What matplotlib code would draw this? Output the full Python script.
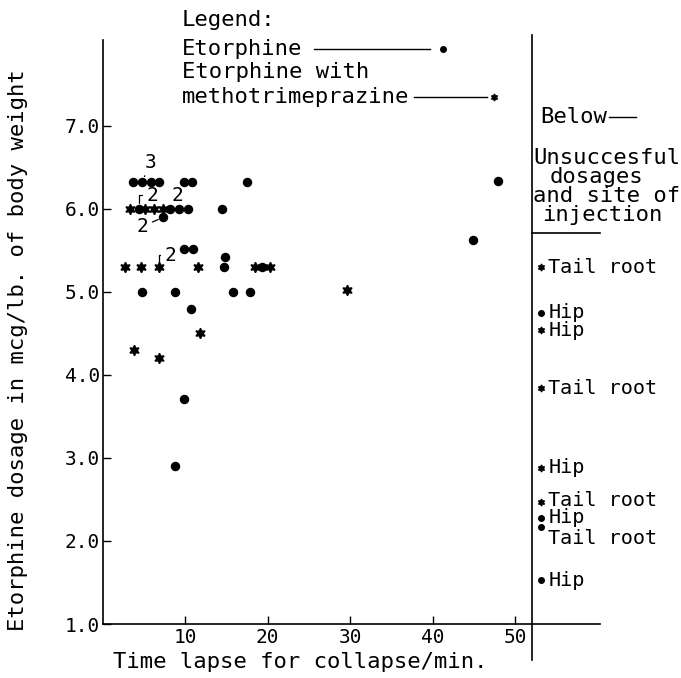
import matplotlib
matplotlib.use("Agg")
import matplotlib.pyplot as plt

# ---------------- data ----------------
# Etorphine alone (filled dots): time lapse (min) vs dosage (mcg/lb)
etorphine_x = [3.7, 4.8, 5.8, 6.8, 9.8, 10.8, 17.5,
               4.35, 8.2, 9.3, 10.35, 14.5,
               7.35, 9.8, 10.9, 14.8, 14.75, 19.35,
               4.8, 8.8, 15.85, 17.8, 10.7, 9.85, 8.8, 44.9, 47.9]
etorphine_y = [6.33, 6.33, 6.33, 6.33, 6.33, 6.33, 6.33,
               6.0, 6.0, 6.0, 6.0, 6.0,
               5.9, 5.52, 5.52, 5.42, 5.3, 5.3,
               5.0, 5.0, 5.0, 5.0, 4.8, 3.71, 2.9, 5.63, 6.34]

# Etorphine with methotrimeprazine (stars)
metho_x = [3.3, 5.15, 6.2, 7.25, 2.65, 4.7, 6.8, 11.6, 18.4, 20.3, 29.6, 11.8, 3.75, 6.85]
metho_y = [6.0, 6.0, 6.0, 6.0, 5.3, 5.3, 5.3, 5.3, 5.3, 5.3, 5.02, 4.5, 4.3, 4.2]

# Multiplicity labels on overlapping points
mult_labels = ["3", "2", "2", "2", "2"]
mult_x = [4.8, 4.35, 8.2, 7.35, 6.8]
mult_y = [6.33, 6.0, 6.0, 5.9, 5.3]

# Unsuccessful dosages (right panel)
unsucc_y = [5.30, 4.75, 4.54, 3.84, 2.88, 2.47, 2.28, 2.17, 1.53]
unsucc_drug = ["M", "E", "M", "M", "M", "M", "E", "E", "E"]
unsucc_site = ["Tail root", "Hip", "Hip", "Tail root", "Hip",
               "Tail root", "Hip", "Tail root", "Hip"]

x_ticks = [10, 20, 30, 40, 50]
y_ticks = [1.0, 2.0, 3.0, 4.0, 5.0, 6.0, 7.0]
x_ticklabels = ["10", "20", "30", "40", "50"]
y_ticklabels = ["1.0", "2.0", "3.0", "4.0", "5.0", "6.0", "7.0"]

# ---------------- style ----------------
FONT = "DejaVu Sans Mono"
FS = 16       # general text
FS_SITE = 14.5
FS_TICK = 14  # tick labels / multiplicity numbers
plt.rcParams["font.family"] = FONT

W, H = 681, 678
fig = plt.figure(figsize=(W / 100, H / 100), dpi=100)
fig.patch.set_facecolor("white")


def P(x, y):
    """image pixel -> figure fraction"""
    return (x / W, 1 - y / H)


ax_l, ax_r, ax_b, ax_t = 102.7, 531.7, 624.0, 40.0
ax = fig.add_axes([ax_l / W, 1 - ax_b / H, (ax_r - ax_l) / W, (ax_b - ax_t) / H])
ax.set_xlim(0, 52)
ax.set_ylim(1.0, 1.0 + (ax_b - ax_t) / 83.0)

for s in ["top", "right", "bottom"]:
    ax.spines[s].set_visible(False)
ax.spines["left"].set_linewidth(1.2)

ax.set_xticks(x_ticks)
ax.set_xticklabels(x_ticklabels)
ax.set_yticks(y_ticks)
ax.set_yticklabels(y_ticklabels)
ax.tick_params(direction="in", length=6, width=1.0, labelsize=FS_TICK, pad=3)
ax.tick_params(axis="y", pad=2)

# bottom axis line extended into the right panel
ax.plot([0, (600 - ax_l) / (ax_r - ax_l)], [0, 0], color="black", lw=1.2,
        transform=ax.transAxes, clip_on=False)
# right vertical divider
ax.plot([1, 1], [-(660 - ax_b) / (ax_b - ax_t), (ax_b - 35) / (ax_b - ax_t)],
        color="black", lw=1.2, transform=ax.transAxes, clip_on=False)
# separator line in the right panel
fig.add_artist(plt.Line2D([P(ax_r, 0)[0], P(600, 0)[0]], [P(0, 233)[1]] * 2,
                          color="black", lw=1.2))

# data points
ax.plot(etorphine_x, etorphine_y, "o", color="black", ms=5.8, ls="none", clip_on=False)
ax.plot(metho_x, metho_y, marker=(6, 1, 0), color="black", ms=7.5, ls="none", clip_on=False)

# multiplicity annotations
ann_offsets = [(6, 14), (10, 10), (5, 9.5), (-15, -6.5), (8, 8.5)]
ann_conn = ["arc3", "angle,angleA=0,angleB=90,rad=0", "arc3", "arc3",
            "angle,angleA=0,angleB=90,rad=0"]
for lab, x, y, off, cs in zip(mult_labels, mult_x, mult_y, ann_offsets, ann_conn):
    ax.annotate(lab, xy=(x, y), xytext=off, textcoords="offset points",
                fontsize=FS_TICK, ha="center", va="center",
                arrowprops=dict(arrowstyle="-", connectionstyle=cs, lw=0.9,
                                shrinkA=1, shrinkB=4, color="black"))

# right panel: unsuccessful dosages
mx = 53.1
tx = 54.0
text_dy = [0, 0, 0, 0, 0, 0.02, 0, -0.14, 0]
for y, d, site, dy in zip(unsucc_y, unsucc_drug, unsucc_site, text_dy):
    if d == "E":
        ax.plot([mx], [y], "o", color="black", ms=4, clip_on=False)
    else:
        ax.plot([mx], [y], marker=(6, 1, 0), color="black", ms=5, clip_on=False)
    ax.text(tx, y + dy, site, fontsize=FS_SITE, ha="left", va="center", clip_on=False)

# right panel header text
fig.text(*P(540, 117), "Below", fontsize=FS, ha="left", va="center")
fig.add_artist(plt.Line2D([P(609, 0)[0], P(636, 0)[0]], [P(0, 117)[1]] * 2,
                          color="black", lw=1.0))
fig.text(*P(533, 158), "Unsuccesful", fontsize=FS, ha="left", va="center")
fig.text(*P(550, 177), "dosages", fontsize=FS, ha="left", va="center")
fig.text(*P(533, 196), "and site of", fontsize=FS, ha="left", va="center")
fig.text(*P(542, 215), "injection", fontsize=FS, ha="left", va="center")

# legend (top)
fig.text(*P(182, 20), "Legend:", fontsize=FS, ha="left", va="center")
fig.text(*P(182, 49), "Etorphine", fontsize=FS, ha="left", va="center")
fig.add_artist(plt.Line2D([P(314, 0)[0], P(430, 0)[0]], [P(0, 49)[1]] * 2,
                          color="black", lw=1.0))
fig.add_artist(plt.Line2D([P(443, 0)[0]], [P(0, 49)[1]], marker="o", color="black", ms=4))
fig.text(*P(182, 72), "Etorphine with", fontsize=FS, ha="left", va="center")
fig.text(*P(182, 97), "methotrimeprazine", fontsize=FS, ha="left", va="center")
fig.add_artist(plt.Line2D([P(414, 0)[0], P(487, 0)[0]], [P(0, 97)[1]] * 2,
                          color="black", lw=1.0))
fig.add_artist(plt.Line2D([P(494, 0)[0]], [P(0, 97)[1]], marker=(6, 1, 0),
                          color="black", ms=5))

# axis labels
fig.text(*P(18, 350), "Etorphine dosage in mcg/lb. of body weight", fontsize=FS,
         rotation=90, ha="center", va="center")
fig.text(*P(300, 662), "Time lapse for collapse/min.", fontsize=FS,
         ha="center", va="center")

fig.savefig("out.png", dpi=100, facecolor="white")
